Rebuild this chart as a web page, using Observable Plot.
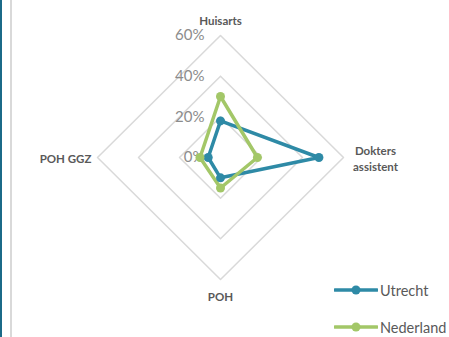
<!DOCTYPE html>
<html><head><meta charset="utf-8">
<script src="https://cdn.jsdelivr.net/npm/d3@7"></script>
<script src="https://cdn.jsdelivr.net/npm/@observablehq/plot@0.6"></script>
<style>
body{margin:0;background:#fff;font-family:Lato,sans-serif;}
#wrap{position:relative;width:449px;height:337px;overflow:hidden;}
#bar{position:absolute;left:0;top:0;width:2px;height:337px;background:#1b6a88;}
#rule{position:absolute;left:10px;top:0;width:2px;height:337px;background:#d9d9d9;}
#legend{position:absolute;left:334px;top:280px;font-size:14.5px;color:#595959;}
#legend div{display:flex;align-items:center;height:20px;margin-bottom:17px;}
#legend svg{margin-right:2px;}
</style></head>
<body><div id="wrap"><div id="bar"></div><div id="rule"></div><div id="chart"></div><div id="legend"></div></div>
<script>
const categories = ["Huisarts", "Dokters\nassistent", "POH", "POH GGZ"];
const seriesNames = ["Utrecht", "Nederland"];
const utrecht = [18, 48, 10, 6];
const nederland = [30, 18, 15, 10];
const gridLevels = [20, 40, 60];
const tickValues = [0, 20, 40, 60];
const tickLabels = ["0%", "20%", "40%", "60%"];
const colors = ["#2e8aa6", "#a3c768"];

const angle = i => i * Math.PI / 2;
const px = (r, i) => r * Math.sin(angle(i));
const py = (r, i) => r * Math.cos(angle(i));

const grid = gridLevels.flatMap(l => categories.map((c, i) => ({level: l, x: px(l, i), y: py(l, i)})));
const pts = [utrecht, nederland].flatMap((vals, s) => vals.map((v, i) => ({series: seriesNames[s], x: px(v, i), y: py(v, i)})));

const labelOffsets = [[0, -16], [32, 0], [0, 16], [-32, 0]];

const chart = Plot.plot({
  width: 449, height: 337, margin: 0,
  x: {domain: [-60, 60], range: [97, 343], axis: null},
  y: {domain: [-60, 60], range: [279, 35], axis: null},
  color: {domain: seriesNames, range: colors},
  style: {fontFamily: "Lato, sans-serif", background: "transparent"},
  marks: [
    Plot.line(grid, {x: "x", y: "y", z: "level", curve: "linear-closed", stroke: "#d9d9d9", strokeWidth: 1.5}),
    Plot.text(tickLabels, {x: 0, y: (d, i) => tickValues[i], text: d => d, textAnchor: "end", dx: -16, fontSize: 15, fill: "#8c8c8c"}),
    ...categories.map((c, i) => Plot.text([c], {x: px(60, i), y: py(60, i), text: d => d, dx: labelOffsets[i][0], dy: labelOffsets[i][1], fontSize: 11.5, fontWeight: "bold", fill: "#595959", lineHeight: 1.4})),
    Plot.line(pts, {x: "x", y: "y", z: "series", stroke: "series", curve: "linear-closed", strokeWidth: 3.5}),
    Plot.dot(pts, {x: "x", y: "y", fill: "series", r: 4.5})
  ]
});
document.getElementById("chart").appendChild(chart);

const legend = document.getElementById("legend");
seriesNames.forEach((n, i) => {
  const d = document.createElement("div");
  d.innerHTML = `<svg width="44" height="12"><line x1="1" y1="6" x2="43" y2="6" stroke="${colors[i]}" stroke-width="3.5" stroke-linecap="round"/><circle cx="22" cy="6" r="4.5" fill="${colors[i]}"/></svg><span>${n}</span>`;
  legend.appendChild(d);
});
</script></body></html>
